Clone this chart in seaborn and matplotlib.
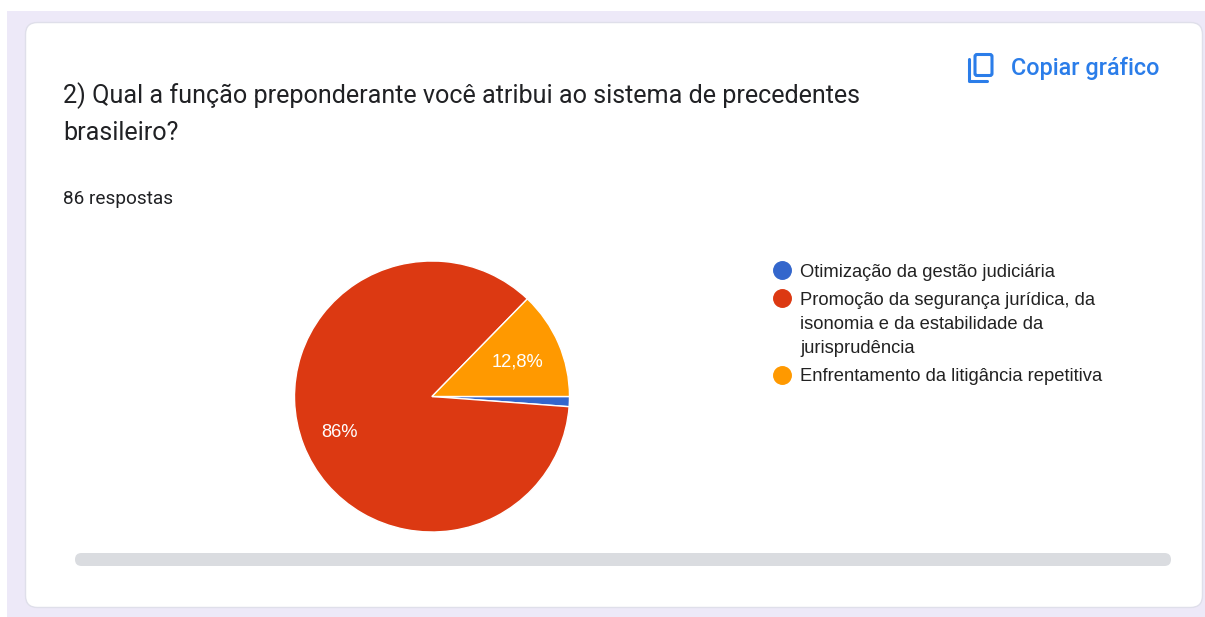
import matplotlib
matplotlib.use('Agg')
import matplotlib.pyplot as plt
from matplotlib.legend_handler import HandlerLine2D
from matplotlib.lines import Line2D
from matplotlib.patches import FancyBboxPatch, Rectangle
import seaborn as sns

categorias = ['Otimização da gestão judiciária',
              'Promoção da segurança jurídica, da\nisonomia e da estabilidade da\njurisprudência',
              'Enfrentamento da litigância repetitiva']
valores = [1.2, 86, 12.8]
cores = ['#3366cc', '#dc3912', '#ff9900']
titulo = '2) Qual a função preponderante você atribui ao sistema de precedentes\nbrasileiro?'
respostas = '86 respostas'
copiar = 'Copiar gráfico'

sns.set_theme(style='white')
plt.rcParams['font.family'] = ['Liberation Sans', 'DejaVu Sans']


# sobe o marcador para a primeira linha do rotulo
class HandlerPrimeiraLinha(HandlerLine2D):
    def __init__(self, sobe, **kw):
        super().__init__(**kw)
        self.sobe = sobe

    def create_artists(self, legend, orig_handle, xdescent, ydescent, width, height, fontsize, trans):
        artistas = super().create_artists(legend, orig_handle, xdescent, ydescent, width, height, fontsize, trans)
        for a in artistas:
            a.set_ydata([y + self.sobe for y in a.get_ydata()])
        return artistas


L, H = 1205, 617
fig = plt.figure(figsize=(L / 100, H / 100), dpi=100, facecolor='white')

# fundo e cartao, em pixels
bg = fig.add_axes([0, 0, 1, 1])
bg.set_xlim(0, L)
bg.set_ylim(H, 0)
bg.axis('off')
bg.add_patch(Rectangle((7, 11), L - 7, H - 11, fc='#ede9f8', ec='none'))
bg.add_patch(FancyBboxPatch((25.5, 22.5), 1177, 585, boxstyle='round,pad=0,rounding_size=12',
                            fc='white', ec='#dfdfea', lw=1))
bg.add_patch(FancyBboxPatch((75, 553), 1096, 13, boxstyle='round,pad=0,rounding_size=6.5',
                            fc='#dadce0', ec='none'))

bg.text(63, 95.5, titulo.split('\n')[0], family='Roboto', fontsize=18.05, color='#202124', va='center')
bg.text(63, 133.5, titulo.split('\n')[1], family='Roboto', fontsize=18.05, color='#202124', va='center')
bg.text(63, 198.5, respostas, family='Roboto', fontsize=13.7, color='#202124', va='center')
bg.text(1011, 68, copiar, family='Roboto', fontsize=16.9, weight='medium', color='#2b7de9', va='center')

# icone de copiar
azul = '#2b7de9'
bg.add_patch(FancyBboxPatch((975, 54.5), 17, 21, boxstyle='round,pad=0,rounding_size=2',
                            fc='none', ec=azul, lw=2.2))
bg.plot([969, 969, 987], [59, 81, 81], color=azul, lw=2.2, solid_capstyle='round', solid_joinstyle='round')

# pizza
ax = fig.add_axes([294.5 / L, 1 - 532 / H, 275 / L, 271 / H])
fatias, _, pct = ax.pie(valores, colors=cores, startangle=0, counterclock=False,
                        autopct=lambda p: f'{p:.3g}'.replace('.', ',') + '%' if p > 5 else '',
                        pctdistance=0.69, radius=1,
                        wedgeprops={'edgecolor': 'white', 'linewidth': 1},
                        textprops={'color': 'white', 'fontsize': 13.2})
ax.set_aspect('auto')
ax.set_xlim(-1, 1)
ax.set_ylim(-1, 1)
for f in fatias:
    f.set_clip_on(False)
for t in pct:
    x, y = t.get_position()
    t.set_position((x - 0.01 if x > 0 else x - 0.03, y - 0.018))

# legenda
handles = [Line2D([], [], marker='o', linestyle='none', markersize=12.6, color=c) for c in cores]
leg = fig.legend(handles, categorias, loc='upper left', bbox_to_anchor=(760.5 / L, 1 - 258 / H),
                 bbox_transform=fig.transFigure, frameon=False, fontsize=13.25, labelspacing=0.6,
                 handletextpad=0.1, handlelength=1.75, borderaxespad=0, borderpad=0.3,
                 labelcolor='#222222', handler_map={handles[1]: HandlerPrimeiraLinha(19)})
for t in leg.get_texts():
    t.set_linespacing(1.57)

fig.savefig('out.png', dpi=100)
